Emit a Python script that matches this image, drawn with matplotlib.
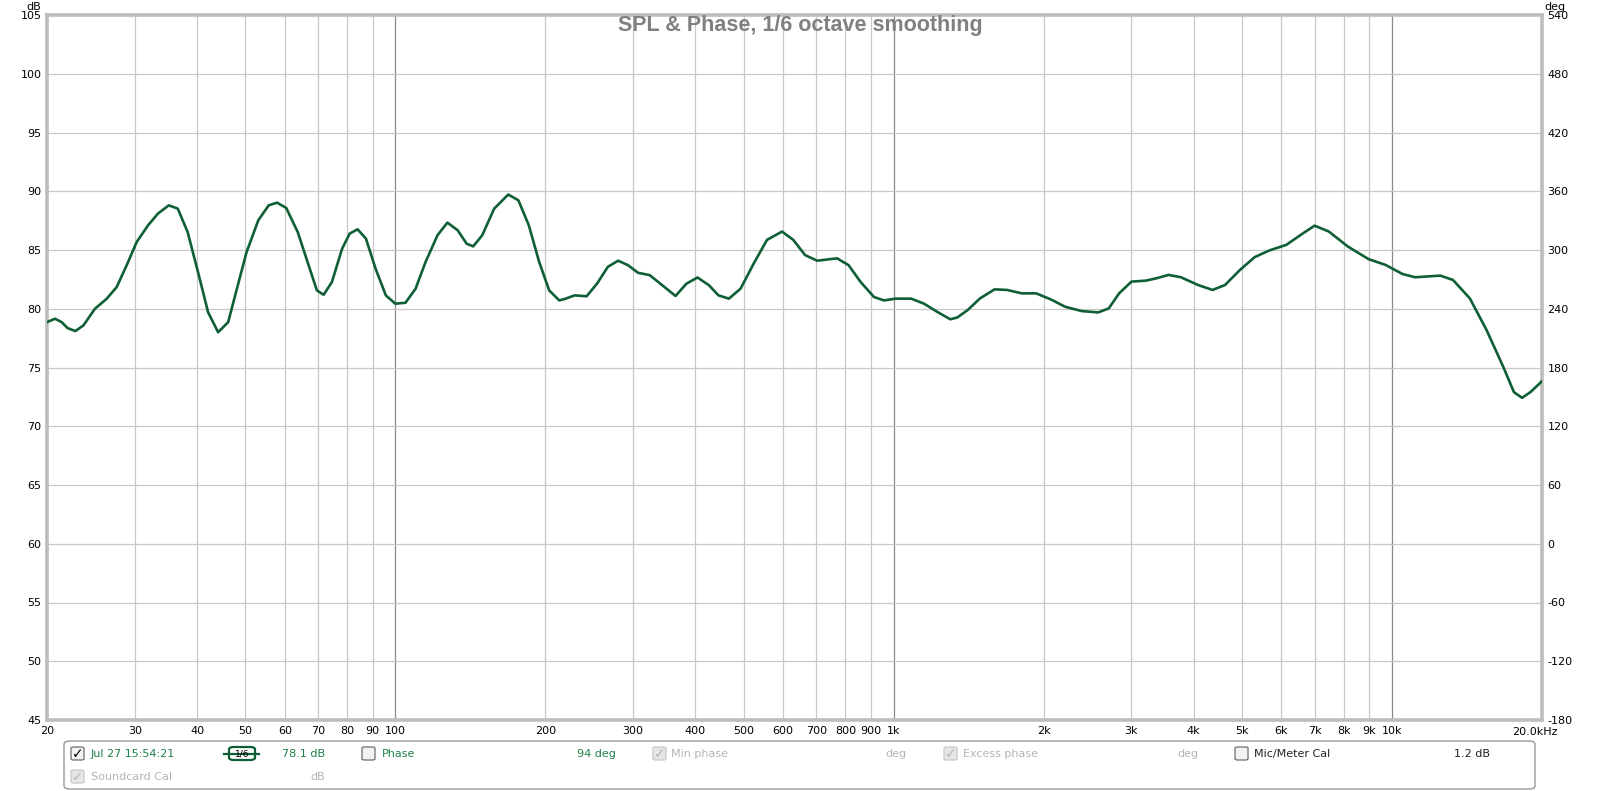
import matplotlib
matplotlib.use("Agg")
import matplotlib.pyplot as plt
from matplotlib.patches import FancyBboxPatch
from matplotlib.lines import Line2D

# SPL curve (Hz, dB)
freq = [20, 20.75, 21.4, 22.0, 22.8, 23.66, 24.96, 26.35, 27.6, 28.9, 30.27, 31.9,
        33.4, 35.1, 36.6, 38.3, 40.2, 42.1, 44.1, 46.2, 47.9, 50.3, 53.1, 55.7, 57.9,
        60.4, 63.7, 67.0, 69.6, 71.8, 74.6, 78.2, 81.0, 84.0, 87.3, 91.3, 95.7, 100,
        104.8, 109.8, 115, 121.5, 127.2, 133.4, 139, 143.3, 149.4, 157.9, 168.5,
        176.6, 185.3, 194.4, 203.6, 213.3, 219.4,
        229, 242, 254, 267, 280, 293, 307, 324, 340, 365, 384, 404, 426, 445, 467,
        493, 524, 557, 597, 629, 664, 702, 770, 812, 858, 913, 956, 1009, 1084, 1151,
        1226, 1300,
        1342, 1408, 1490, 1594, 1690, 1807, 1932, 2066, 2209, 2385, 2574, 2702, 2834,
        3001, 3204, 3366, 3562, 3771, 4082, 4365, 4623, 4953, 5300, 5672, 6138, 6640,
        6994, 7465, 8152, 8978, 9706, 10494, 11126, 12500, 13257, 14330, 15484,
        16728, 17569, 18243, 18950, 19690, 20000]
spl = [78.86, 79.15, 78.86, 78.35, 78.1, 78.58, 80.0, 80.85, 81.85, 83.7, 85.68, 87.1,
       88.1, 88.8, 88.52, 86.53, 83.1, 79.7, 78.0, 78.86, 81.42, 84.83, 87.53, 88.8,
       89.03, 88.58, 86.53, 83.7, 81.56, 81.19, 82.27, 85.11, 86.4, 86.76, 85.97,
       83.4, 81.14, 80.43, 80.51, 81.7, 83.98, 86.25, 87.33, 86.68, 85.54, 85.31,
       86.25, 88.52, 89.72, 89.23, 87.1, 83.98, 81.56, 80.71, 80.85,
       81.14, 81.06, 82.14, 83.57, 84.09, 83.71, 83.06, 82.86, 82.14, 81.09, 82.14,
       82.66, 82.0, 81.14, 80.86, 81.71, 83.86, 85.86, 86.57, 85.86, 84.57, 84.09,
       84.29, 83.71, 82.29, 81.0, 80.71, 80.86, 80.86, 80.43, 79.71, 79.1,
       79.26, 79.89, 80.88, 81.65, 81.6, 81.31, 81.31, 80.8, 80.17, 79.8, 79.69,
       80.03, 81.31, 82.31, 82.39, 82.59, 82.88, 82.68, 82.02, 81.6, 82.02, 83.3,
       84.39, 84.96, 85.44, 86.44, 87.07, 86.58, 85.3, 84.22, 83.73, 82.96, 82.68,
       82.82, 82.45, 80.88, 78.18, 75.04, 72.9, 72.42, 72.9, 73.56, 73.85]

xticks = [20, 30, 40, 50, 60, 70, 80, 90, 100, 200, 300, 400, 500, 600, 700, 800, 900,
          1000, 2000, 3000, 4000, 5000, 6000, 7000, 8000, 9000, 10000]
xlabels = ["20", "30", "40", "50", "60", "70", "80", "90", "100", "200", "300", "400",
           "500", "600", "700", "800", "900", "1k", "2k", "3k", "4k", "5k", "6k", "7k",
           "8k", "9k", "10k"]
db_ticks = list(range(45, 106, 5))
deg_ticks = list(range(-180, 541, 60))

W, H = 1600, 791
GREEN = "#0e5f35"
TXT_GREEN = "#1f8048"
GRAY_TXT = "#b4b4b4"

plt.rcParams["font.family"] = ["DejaVu Sans"]
plt.rcParams["axes.unicode_minus"] = False

fig = plt.figure(figsize=(W / 100, H / 100), dpi=100)
fig.patch.set_facecolor("white")


def fx(px):
    return px / W


def fy(py):
    return 1 - py / H


L, R, T, B = 47, 1542, 15, 720
ax = fig.add_axes([fx(L), fy(B), (R - L) / W, (B - T) / H])
ax.set_xscale("log")
ax.set_xlim(20, 20000)
ax.set_ylim(45, 105)

# grid
for f in xticks[1:]:
    dec = f in (100, 1000, 10000)
    ax.axvline(f, color="#8a8a8a" if dec else "#c8c8c8", lw=0.9, zorder=1)
for d in db_ticks[1:-1]:
    ax.axhline(d, color="#c8c8c8", lw=0.9, zorder=1)

ax.plot(freq, spl, color=GREEN, lw=1.9, zorder=3, solid_capstyle="round",
        solid_joinstyle="round")

ax.set_xticks(xticks)
ax.set_xticklabels(xlabels)
ax.xaxis.set_minor_locator(matplotlib.ticker.NullLocator())
ax.set_yticks(db_ticks)
ax.tick_params(axis="both", length=0, labelsize=8, colors="black")
ax.tick_params(axis="x", pad=4)
ax.tick_params(axis="y", pad=4)
for s in ax.spines.values():
    s.set_color("#bdbdbd")
    s.set_linewidth(2.6)

ax2 = ax.twinx()
ax2.set_ylim(-180, 540)
ax2.set_yticks(deg_ticks)
ax2.tick_params(axis="y", length=0, labelsize=8, pad=4)
for s in ax2.spines.values():
    s.set_visible(False)

ax.text(1.0 + 16 / (R - L), -0.017, "20.0kHz", transform=ax.transAxes, ha="right",
        va="center", fontsize=8)

fig.text(fx(34), fy(7), "dB", ha="center", va="center", fontsize=8)
fig.text(fx(1555), fy(7), "deg", ha="center", va="center", fontsize=8)

fig.text(fx(800), fy(25), "SPL & Phase, 1/6 octave smoothing", ha="center", va="center",
         fontsize=15.5, fontweight="bold", color="#808080", family="Liberation Sans",
         zorder=5)

# legend panel
fig.patches.append(FancyBboxPatch((fx(64), fy(789)), fx(1535 - 64), (789 - 741) / H,
                                  boxstyle="round,pad=0,rounding_size=0.004",
                                  transform=fig.transFigure, fc="white", ec="#8c8c8c",
                                  lw=0.9))


def checkbox(x, y, checked, enabled=True):
    ec = "#6e6e6e" if enabled else "#c8c8c8"
    fc = "#f2f2f2" if enabled else "#e6e6e6"
    fig.patches.append(FancyBboxPatch((fx(x), fy(y + 13)), 13 / W, 13 / H,
                                      boxstyle="round,pad=0,rounding_size=0.0015",
                                      transform=fig.transFigure, fc=fc, ec=ec, lw=0.9))
    if checked:
        fig.text(fx(x + 7), fy(y + 7), "\u2713", ha="center", va="center",
                 fontsize=10, fontweight="bold",
                 color="black" if enabled else "#b8b8b8")


LEG_FONT = dict(fontsize=8, va="center")
row1, row2 = 754, 777
checkbox(71, 747, True)
fig.text(fx(91), fy(row1), "Jul 27 15:54:21", color=TXT_GREEN, ha="left", **LEG_FONT)
fig.lines.append(Line2D([fx(224), fx(259)], [fy(row1), fy(row1)], color=GREEN, lw=1.6,
                        transform=fig.transFigure))
fig.patches.append(FancyBboxPatch((fx(229), fy(760)), 26 / W, 13 / H,
                                  boxstyle="round,pad=0,rounding_size=0.003",
                                  transform=fig.transFigure, fc="white", ec=GREEN, lw=1.6))
fig.text(fx(242), fy(row1), "1/6", ha="center", va="center", fontsize=6.5, color="black")
fig.text(fx(325), fy(row1), "78.1 dB", color=TXT_GREEN, ha="right", **LEG_FONT)
checkbox(362, 747, False)
fig.text(fx(382), fy(row1), "Phase", color=TXT_GREEN, ha="left", **LEG_FONT)
fig.text(fx(616), fy(row1), "94 deg", color=TXT_GREEN, ha="right", **LEG_FONT)
checkbox(653, 747, True, enabled=False)
fig.text(fx(671), fy(row1), "Min phase", color=GRAY_TXT, ha="left", **LEG_FONT)
fig.text(fx(907), fy(row1), "deg", color=GRAY_TXT, ha="right", **LEG_FONT)
checkbox(944, 747, True, enabled=False)
fig.text(fx(963), fy(row1), "Excess phase", color=GRAY_TXT, ha="left", **LEG_FONT)
fig.text(fx(1198), fy(row1), "deg", color=GRAY_TXT, ha="right", **LEG_FONT)
checkbox(1235, 747, False)
fig.text(fx(1254), fy(row1), "Mic/Meter Cal", color="#222222", ha="left", **LEG_FONT)
fig.text(fx(1490), fy(row1), "1.2 dB", color="#222222", ha="right", **LEG_FONT)
checkbox(71, 770, True, enabled=False)
fig.text(fx(91), fy(row2), "Soundcard Cal", color=GRAY_TXT, ha="left", **LEG_FONT)
fig.text(fx(325), fy(row2), "dB", color=GRAY_TXT, ha="right", **LEG_FONT)

fig.savefig("out.png", dpi=100, facecolor="white")
